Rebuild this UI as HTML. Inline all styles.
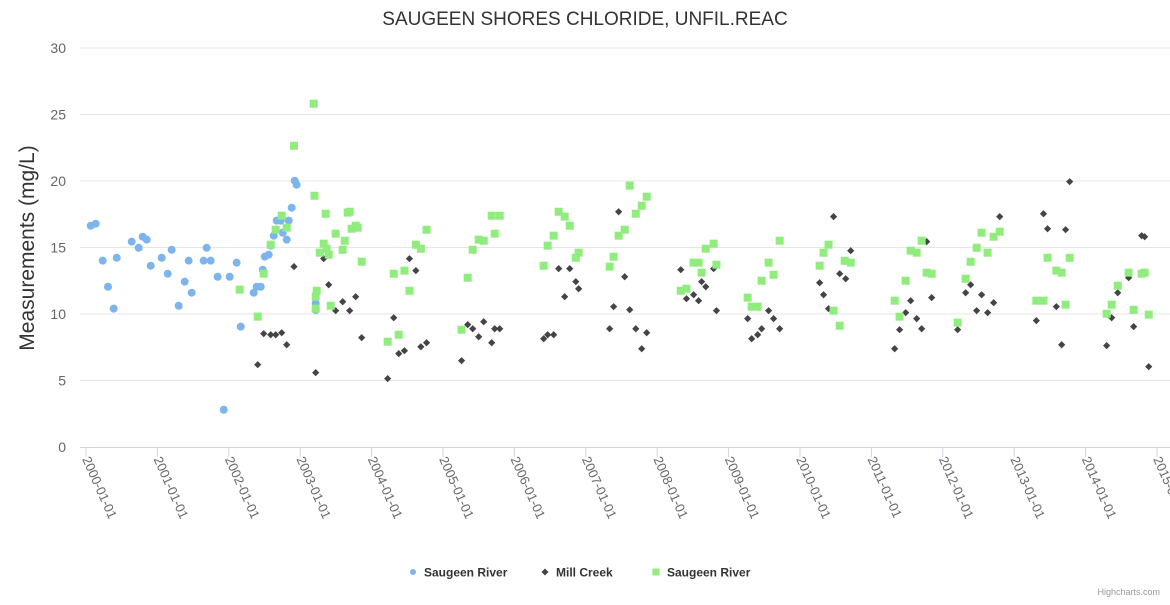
<!DOCTYPE html>
<html><head><meta charset="utf-8"><style>
body{margin:0;background:#fff;font-family:"Liberation Sans",sans-serif;}
svg text{font-family:"Liberation Sans",sans-serif;}
</style></head><body>
<svg id="chart" width="1170" height="600" xmlns="http://www.w3.org/2000/svg">
<rect width="1170" height="600" fill="#fff"/>
<text x="585" y="25" text-anchor="middle" font-size="19" fill="#333">SAUGEEN SHORES CHLORIDE, UNFIL.REAC</text>
<g id="grid"></g><g id="xaxis"></g><g id="yaxis"></g>
<text transform="translate(34,248) rotate(-90)" text-anchor="middle" font-size="21" fill="#333">Measurements (mg/L)</text>
<g id="marks"></g>
<g id="legend"></g>
<text x="1160" y="595" text-anchor="end" font-size="9" fill="#999">Highcharts.com</text>
</svg>
<script>
const yTicks=[0,5,10,15,20,25,30];
const xTickYears=[2000,2001,2002,2003,2004,2005,2006,2007,2008,2009,2010,2011,2012,2013,2014,2015];
const seriesNames=["Saugeen River","Mill Creek","Saugeen River"];
const blueX=[2000.066,2000.136,2000.234,2000.308,2000.388,2000.43,2000.64,2000.738,2000.794,2000.85,2000.906,2001.06,2001.144,2001.2,2001.298,2001.382,2001.438,2001.48,2001.648,2001.69,2001.746,2001.844,2001.929,2002.013,2002.11,2002.167,2002.349,2002.39,2002.447,2002.475,2002.503,2002.559,2002.587,2002.629,2002.671,2002.727,2002.755,2002.811,2002.839,2002.881,2002.923,2002.95,2003.217,2003.217];
const blueY=[16.64,16.79,14.01,12.05,10.4,14.23,15.44,14.98,15.81,15.59,13.63,14.23,13.03,14.83,10.62,12.43,14.01,11.6,14.01,14.98,14.01,12.8,2.8,12.8,13.86,9.05,11.6,12.05,12.05,13.33,14.31,14.46,15.14,15.89,17.02,17.02,16.11,15.59,17.02,17.99,20.02,19.72,10.8,10.3];
const millX=[2002.405,2002.489,2002.587,2002.657,2002.741,2002.811,2002.913,2003.217,2003.329,2003.399,2003.497,2003.595,2003.693,2003.777,2003.861,2004.225,2004.31,2004.38,2004.46,2004.53,2004.62,2004.69,2004.77,
2005.26,2005.346,2005.416,2005.5,2005.57,2005.682,2005.724,2005.794,2006.41,2006.466,2006.55,2006.62,2006.704,2006.775,2006.86,2006.9,2007.334,2007.39,2007.46,2007.545,2007.615,2007.7,2007.783,2007.853,2008.33,2008.41,2008.51,2008.58,2008.622,2008.68,2008.79,2008.83,2009.267,2009.323,2009.407,2009.463,2009.56,2009.63,2009.715,
2010.275,2010.47,2010.33,2010.4,2010.556,2010.64,2010.71,2011.326,2011.395,2011.48,2011.55,2011.634,2011.704,2011.774,2011.844,2012.208,2012.32,2012.39,2012.474,2012.544,2012.628,2012.712,2012.797,2013.31,2013.41,2013.467,2013.59,2013.665,2013.72,2013.777,2014.295,2014.365,2014.45,2014.603,2014.673,2014.785,2014.827,2014.884];
const millY=[6.19,8.52,8.44,8.44,8.59,7.69,13.56,5.59,14.16,12.2,10.25,10.92,10.25,11.3,8.22,5.14,9.72,7.02,7.24,14.16,13.26,7.54,7.84,
6.49,9.2,8.89,8.29,9.42,7.84,8.89,8.89,8.14,8.44,8.44,13.41,11.3,13.41,12.43,11.9,8.89,10.55,17.69,12.8,10.32,8.89,7.39,8.59,13.33,11.15,11.45,11.0,12.43,12.05,13.41,10.25,9.65,8.14,8.44,8.89,10.25,9.65,8.89,
12.35,17.32,11.45,10.4,13.03,12.65,14.76,7.39,8.82,10.1,11.0,9.65,8.89,15.44,11.23,8.82,11.6,12.2,10.25,11.45,10.1,10.85,17.32,9.5,17.54,16.41,10.55,7.69,16.34,19.95,7.62,9.72,11.6,12.73,9.05,15.89,15.81,6.04];
const greenX=[2003.19,2002.913,2003.2,2003.357,2003.665,2003.693,2002.741,2002.657,2002.811,2003.72,2003.777,2003.805,2003.497,2003.623,2002.587,2003.329,2003.371,2003.273,2003.399,2003.595,2003.861,2002.489,2002.153,2002.405,2003.231,2003.217,2003.217,2003.427,2004.31,2004.46,2004.53,2004.62,2004.69,2004.77,2004.225,2004.38,
2005.26,2005.346,2005.416,2005.5,2005.57,2005.682,2005.724,2005.794,2006.41,2006.466,2006.55,2006.62,2006.704,2006.775,2006.86,2006.9,2007.334,2007.39,2007.46,2007.545,2007.615,2007.7,2007.783,2007.853,2008.33,2008.41,2008.51,2008.58,2008.622,2008.68,2008.79,2008.83,2009.267,2009.323,2009.407,2009.463,2009.56,2009.63,2009.715,
2010.275,2010.33,2010.4,2010.47,2010.556,2010.626,2010.71,2011.326,2011.395,2011.48,2011.55,2011.634,2011.704,2011.774,2011.844,2012.208,2012.32,2012.39,2012.474,2012.544,2012.628,2012.712,2012.797,2013.31,2013.41,2013.467,2013.59,2013.665,2013.72,2013.777,2014.295,2014.365,2014.45,2014.603,2014.673,2014.785,2014.827,2014.884];
const greenY=[25.81,22.65,18.89,17.54,17.62,17.69,17.39,16.34,16.49,16.41,16.64,16.49,16.04,15.51,15.21,15.29,14.91,14.61,14.46,14.83,13.93,13.03,11.83,9.8,11.75,11.3,10.4,10.62,13.03,13.26,11.75,15.21,14.91,16.34,7.92,8.44,
8.82,12.73,14.83,15.59,15.51,17.39,16.04,17.39,13.63,15.14,15.89,17.69,17.32,16.64,14.23,14.61,13.56,14.31,15.89,16.34,19.65,17.54,18.14,18.82,11.75,11.9,13.86,13.86,13.11,14.91,15.29,13.71,11.23,10.55,10.55,12.5,13.86,12.95,15.51,
13.63,14.61,15.21,10.25,9.12,14.0,13.86,11.0,9.8,12.5,14.76,14.61,15.51,13.11,13.03,9.35,12.65,13.93,14.98,16.11,14.61,15.81,16.19,11.0,11.0,14.23,13.26,13.11,10.7,14.23,10.02,10.7,12.13,13.11,10.32,13.03,13.11,9.95];

const NS="http://www.w3.org/2000/svg";
const X0=86,YR=71.4,Y0=447,YU=13.3;
function xs(v){return X0+(v-2000)*YR;}
function ys(v){return Y0-v*YU;}
function mk(tag,attrs,parent){const e=document.createElementNS(NS,tag);for(const k in attrs)e.setAttribute(k,attrs[k]);parent.appendChild(e);return e;}
const grid=document.getElementById('grid'),ya=document.getElementById('yaxis'),xa=document.getElementById('xaxis'),marks=document.getElementById('marks'),lg=document.getElementById('legend');
yTicks.forEach(t=>{
  if(t>0){const l=mk('line',{x1:80,x2:1170,y1:ys(t),y2:ys(t),stroke:'#e6e6e6'},grid);
  
  }
  const tx=mk('text',{x:66,y:ys(t)+5,'text-anchor':'end','font-size':14,fill:'#666'},ya);tx.textContent=t;
  
  
});
const ax=mk('line',{x1:80,x2:1170,y1:Y0+0.5,y2:Y0+0.5,stroke:'#ccd6eb'},xa);


xTickYears.forEach(yv=>{
  const x=xs(yv);
  const tk=mk('line',{x1:x,x2:x,y1:Y0,y2:Y0+10,stroke:'#ccd6eb'},xa);
  
  
  const tx=mk('text',{x:0,y:0,'font-size':13,fill:'#666',transform:'translate('+(x-4)+','+(Y0+12)+') rotate(66)'},xa);
  tx.textContent=yv+'-01-01';
  
  
});
blueX.forEach((v,i)=>{const c=mk('circle',{cx:xs(v),cy:ys(blueY[i]),r:4,fill:'#7cb5ec'},marks);
  
  });
millX.forEach((v,i)=>{const x=xs(v),y=ys(millY[i]);const p=mk('path',{d:`M${x} ${y-3.6}L${x+3.6} ${y}L${x} ${y+3.6}L${x-3.6} ${y}Z`,fill:'#434348'},marks);
  
  });
greenX.forEach((v,i)=>{const r=mk('rect',{x:xs(v)-4,y:ys(greenY[i])-4,width:8,height:8,fill:'#90ed7d'},marks);
  
  });
const lx=[413,545,656];
seriesNames.forEach((n,i)=>{
  const g=mk('g',{},lg);
  
  
  const x=lx[i],y=572;
  if(i==0)mk('circle',{cx:x,cy:y,r:3,fill:'#7cb5ec'},g);
  else if(i==1)mk('path',{d:`M${x} ${y-3.5}L${x+3.5} ${y}L${x} ${y+3.5}L${x-3.5} ${y}Z`,fill:'#434348'},g);
  else mk('rect',{x:x-3.5,y:y-3.5,width:7,height:7,fill:'#90ed7d'},g);
  const t=mk('text',{x:x+11,y:y+4.5,'font-size':12,'font-weight':'bold',fill:'#333'},g);t.textContent=n;
});
</script>
</body></html>
